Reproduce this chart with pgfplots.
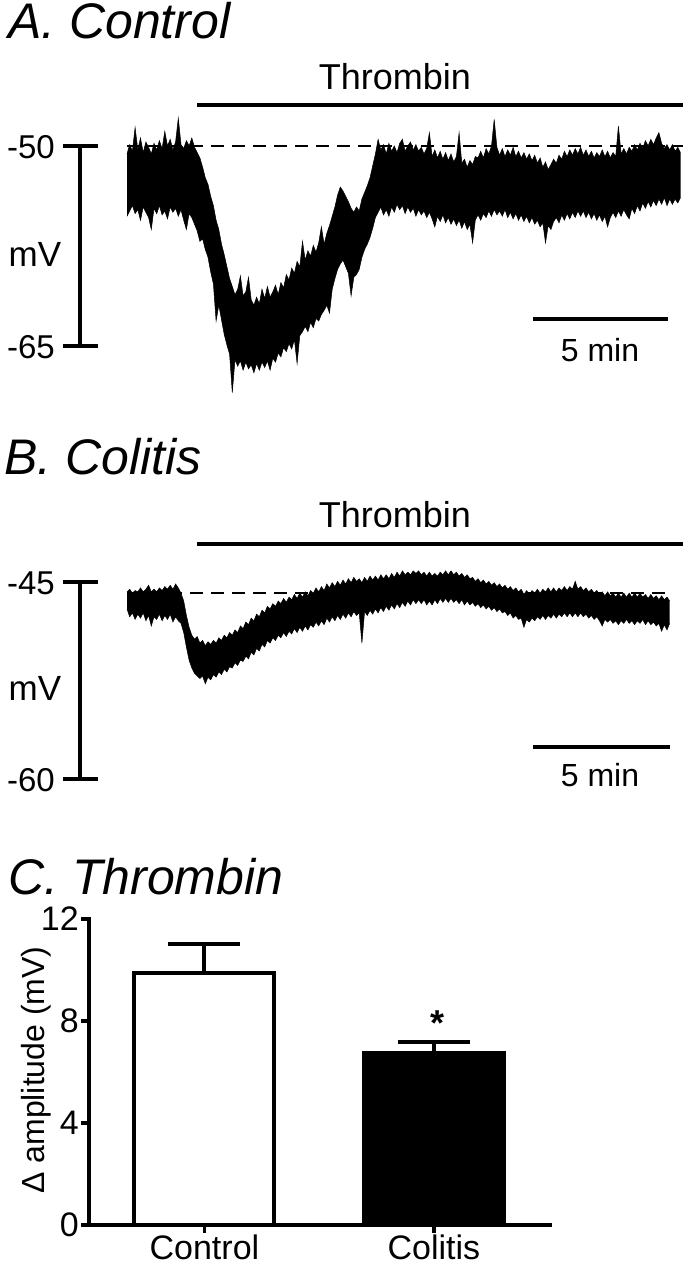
\documentclass[border=0pt]{standalone}
\usepackage{fontspec}
\setmainfont{Liberation Sans}
\usepackage{pgfplots}
\usepackage{pgfplotstable}
\pgfplotsset{compat=1.18}
\usepgfplotslibrary{fillbetween}

\newcommand{\fs}[1]{\fontsize{#1pt}{#1pt}\selectfont}

% A: control trace, t in min, upper and lower edge of the noisy band (mV)
\pgfplotstableread{
t u l
0.0 -50.6 -55.3
0.1 -49.9 -54.9
0.2 -50.4 -54.5
0.3 -48.6 -55.1
0.4 -50.3 -54.8
0.5 -49.4 -55.6
0.6 -50.5 -54.6
0.7 -49.7 -55.0
0.8 -50.1 -55.4
0.9 -50.6 -56.3
1.0 -49.8 -54.7
1.1 -50.3 -55.1
1.2 -49.6 -54.5
1.3 -50.2 -55.2
1.4 -48.9 -54.9
1.5 -50.0 -55.5
1.6 -49.5 -54.6
1.7 -50.3 -55.0
1.8 -49.7 -54.7
1.9 -47.9 -55.3
2.0 -49.9 -54.8
2.1 -50.2 -55.6
2.2 -49.6 -56.3
2.3 -50.0 -55.1
2.4 -49.4 -55.4
2.5 -50.1 -55.9
2.6 -50.5 -56.4
2.7 -50.9 -57.2
2.8 -51.6 -57.0
2.9 -52.4 -57.8
3.0 -52.9 -58.4
3.1 -53.8 -59.5
3.2 -54.5 -60.4
3.3 -55.6 -63.2
3.4 -56.3 -62.0
3.5 -57.4 -63.1
3.6 -58.2 -64.2
3.7 -59.1 -65.0
3.8 -60.0 -65.7
3.9 -60.6 -68.6
4.0 -61.2 -66.1
4.1 -60.8 -66.6
4.2 -59.8 -66.2
4.3 -61.3 -66.9
4.4 -61.0 -66.3
4.5 -59.9 -66.8
4.6 -61.6 -66.5
4.7 -62.0 -67.1
4.8 -61.4 -66.4
4.9 -61.9 -66.9
5.0 -60.8 -66.3
5.1 -61.5 -66.7
5.2 -60.6 -66.2
5.3 -61.4 -66.9
5.4 -61.0 -66.0
5.5 -60.5 -66.3
5.6 -61.2 -65.6
5.7 -60.3 -65.9
5.8 -60.7 -65.2
5.9 -59.7 -65.5
6.0 -60.1 -64.9
6.1 -59.2 -65.3
6.2 -59.6 -64.6
6.3 -58.7 -66.4
6.4 -59.1 -64.3
6.5 -57.2 -64.0
6.6 -58.6 -63.6
6.7 -57.9 -64.0
6.8 -58.3 -63.3
6.9 -57.5 -63.7
7.0 -58.0 -63.0
7.1 -57.3 -63.2
7.2 -56.1 -62.7
7.3 -57.4 -62.4
7.4 -56.6 -62.0
7.5 -56.0 -62.6
7.6 -55.3 -60.8
7.7 -54.6 -60.0
7.8 -53.7 -59.3
7.9 -53.1 -58.9
8.0 -53.4 -58.6
8.1 -53.8 -59.1
8.2 -54.2 -59.6
8.3 -54.7 -61.3
8.4 -55.0 -59.9
8.5 -54.6 -59.7
8.6 -54.9 -59.3
8.7 -54.0 -58.4
8.8 -53.5 -57.8
8.9 -53.0 -57.4
9.0 -52.4 -56.9
9.1 -51.5 -56.2
9.2 -50.6 -55.4
9.3 -49.5 -55.0
9.4 -50.3 -54.6
9.5 -49.9 -55.2
9.6 -50.6 -54.8
9.7 -49.8 -55.3
9.8 -50.4 -54.6
9.9 -50.0 -55.0
10.0 -50.5 -54.4
10.1 -49.8 -54.8
10.2 -49.5 -54.5
10.3 -50.4 -55.1
10.4 -50.0 -54.6
10.5 -49.7 -55.0
10.6 -50.3 -54.7
10.7 -49.9 -55.3
10.8 -50.4 -54.8
10.9 -50.1 -55.2
11.0 -50.6 -54.9
11.1 -50.2 -55.4
11.2 -49.0 -55.0
11.3 -50.8 -55.5
11.4 -50.3 -56.1
11.5 -50.9 -55.3
11.6 -50.4 -55.7
11.7 -51.0 -55.2
11.8 -50.5 -55.8
11.9 -51.1 -55.4
12.0 -50.6 -55.9
12.1 -51.2 -55.5
12.2 -50.8 -56.0
12.3 -49.0 -55.6
12.4 -51.3 -56.2
12.5 -51.0 -55.7
12.6 -51.6 -56.3
12.7 -51.1 -55.9
12.8 -51.4 -57.3
12.9 -50.8 -55.6
13.0 -50.9 -55.2
13.1 -50.4 -55.6
13.2 -50.9 -55.1
13.3 -50.2 -55.4
13.4 -50.6 -54.9
13.5 -50.0 -55.3
13.6 -48.0 -54.8
13.7 -50.1 -55.2
13.8 -50.7 -54.9
13.9 -50.2 -55.3
14.0 -50.8 -54.8
14.1 -50.3 -55.4
14.2 -50.7 -55.0
14.3 -50.1 -55.5
14.4 -50.8 -55.1
14.5 -50.4 -55.6
14.6 -50.9 -55.2
14.7 -50.5 -55.7
14.8 -51.0 -55.3
14.9 -50.6 -55.8
15.0 -51.1 -55.4
15.1 -50.7 -55.9
15.2 -51.3 -55.6
15.3 -50.9 -56.1
15.4 -51.6 -55.8
15.5 -51.2 -57.3
15.6 -51.8 -56.0
15.7 -51.4 -56.3
15.8 -51.0 -55.7
15.9 -51.3 -55.4
16.0 -50.7 -55.8
16.1 -51.0 -55.2
16.2 -50.4 -55.6
16.3 -50.8 -55.1
16.4 -50.3 -55.5
16.5 -50.7 -55.0
16.6 -50.2 -55.4
16.7 -50.6 -54.9
16.8 -50.1 -55.3
16.9 -50.7 -54.9
17.0 -50.3 -55.4
17.1 -50.8 -55.0
17.2 -50.4 -55.5
17.3 -50.9 -55.1
17.4 -50.5 -55.6
17.5 -50.8 -55.2
17.6 -50.3 -55.7
17.7 -50.8 -55.3
17.8 -50.4 -56.1
17.9 -50.9 -55.4
18.0 -50.5 -55.0
18.1 -50.8 -55.4
18.2 -48.5 -54.9
18.3 -50.6 -55.3
18.4 -50.2 -54.8
18.5 -50.6 -55.2
18.6 -50.1 -55.5
18.7 -50.4 -54.7
18.8 -49.9 -55.1
18.9 -50.3 -54.5
19.0 -49.8 -54.9
19.1 -50.2 -54.3
19.2 -49.6 -54.7
19.3 -50.0 -54.2
19.4 -49.5 -54.6
19.5 -49.9 -54.1
19.6 -49.4 -54.5
19.7 -49.0 -54.0
19.8 -49.8 -54.4
19.9 -50.2 -53.9
20.0 -49.9 -54.5
20.1 -50.3 -54.0
20.2 -49.9 -54.4
20.3 -50.4 -54.0
20.4 -50.1 -54.3
20.5 -50.5 -53.9
}\traceA

% B: colitis trace
\pgfplotstableread{
t u l
0.0 -45.9 -47.2
0.1 -45.7 -47.8
0.2 -46.0 -47.5
0.3 -45.8 -48.0
0.4 -45.9 -47.6
0.5 -45.6 -47.9
0.6 -45.9 -47.5
0.7 -45.7 -48.1
0.8 -45.4 -47.7
0.9 -45.9 -48.5
1.0 -45.7 -47.8
1.1 -45.9 -48.0
1.2 -45.6 -47.6
1.3 -45.8 -48.1
1.4 -45.5 -47.7
1.5 -45.7 -48.0
1.6 -45.4 -47.6
1.7 -45.7 -48.2
1.8 -45.3 -47.8
1.9 -45.6 -48.1
2.0 -46.0 -48.3
2.1 -46.6 -49.0
2.2 -47.7 -50.1
2.3 -48.6 -51.1
2.4 -49.2 -51.7
2.5 -49.5 -52.1
2.6 -49.3 -52.3
2.7 -49.8 -52.5
2.8 -49.6 -52.3
2.9 -50.0 -52.9
3.0 -49.7 -52.4
3.1 -49.9 -52.6
3.2 -49.6 -52.2
3.3 -49.8 -52.4
3.4 -49.4 -52.0
3.5 -49.6 -52.2
3.6 -49.2 -51.8
3.7 -49.4 -52.0
3.8 -49.0 -51.6
3.9 -49.2 -51.7
4.0 -48.8 -51.3
4.1 -49.0 -51.5
4.2 -48.5 -51.1
4.3 -48.7 -51.2
4.4 -48.2 -50.8
4.5 -48.4 -51.0
4.6 -47.9 -50.5
4.7 -48.1 -50.7
4.8 -47.6 -50.2
4.9 -47.8 -50.4
5.0 -47.3 -49.9
5.1 -47.5 -50.1
5.2 -47.0 -49.6
5.3 -47.2 -49.8
5.4 -46.8 -49.4
5.5 -47.0 -49.6
5.6 -46.6 -49.2
5.7 -46.8 -49.4
5.8 -46.4 -49.0
5.9 -46.7 -49.3
6.0 -46.3 -48.9
6.1 -46.5 -49.1
6.2 -46.1 -48.7
6.3 -46.4 -49.0
6.4 -46.0 -48.6
6.5 -46.3 -48.9
6.6 -45.9 -48.5
6.7 -46.2 -48.8
6.8 -45.8 -48.4
6.9 -46.0 -48.6
7.0 -45.6 -48.2
7.1 -45.9 -48.5
7.2 -45.5 -48.1
7.3 -45.8 -48.4
7.4 -45.3 -47.9
7.5 -45.6 -48.2
7.6 -45.2 -47.8
7.7 -45.5 -48.1
7.8 -45.1 -47.7
7.9 -45.4 -48.0
8.0 -45.0 -47.6
8.1 -45.3 -47.9
8.2 -44.9 -47.5
8.3 -45.2 -47.8
8.4 -44.8 -47.4
8.5 -45.1 -47.7
8.6 -44.9 -47.5
8.7 -45.2 -49.8
8.8 -44.8 -47.4
8.9 -45.1 -47.7
9.0 -44.7 -47.3
9.1 -45.0 -47.6
9.2 -44.7 -47.2
9.3 -45.0 -47.5
9.4 -44.6 -47.1
9.5 -44.9 -47.4
9.6 -44.6 -47.0
9.7 -44.9 -47.3
9.8 -44.5 -46.9
9.9 -44.8 -47.2
10.0 -44.4 -46.8
10.1 -44.7 -47.1
10.2 -44.3 -46.7
10.3 -44.6 -47.0
10.4 -44.4 -46.6
10.5 -44.6 -46.9
10.6 -44.3 -46.5
10.7 -44.5 -46.8
10.8 -44.3 -46.5
10.9 -44.6 -46.8
11.0 -44.4 -46.5
11.1 -44.7 -46.9
11.2 -44.4 -46.6
11.3 -44.7 -46.9
11.4 -44.5 -46.5
11.5 -44.7 -46.8
11.6 -44.4 -46.4
11.7 -44.6 -46.7
11.8 -44.3 -46.4
11.9 -44.6 -46.7
12.0 -44.3 -46.4
12.1 -44.6 -46.7
12.2 -44.4 -46.5
12.3 -44.7 -46.8
12.4 -44.5 -46.5
12.5 -44.8 -46.9
12.6 -44.6 -46.6
12.7 -44.9 -46.9
12.8 -44.8 -46.7
12.9 -45.1 -47.0
13.0 -44.9 -46.8
13.1 -45.2 -47.1
13.2 -45.0 -46.9
13.3 -45.3 -47.2
13.4 -45.1 -47.0
13.5 -45.4 -47.3
13.6 -45.2 -47.1
13.7 -45.5 -47.4
13.8 -45.3 -47.2
13.9 -45.6 -47.5
14.0 -45.4 -47.4
14.1 -45.7 -47.7
14.2 -45.5 -47.5
14.3 -45.8 -47.9
14.4 -45.6 -47.7
14.5 -45.9 -48.0
14.6 -45.7 -47.9
14.7 -46.1 -48.6
14.8 -45.8 -48.0
14.9 -46.1 -48.2
15.0 -45.8 -47.9
15.1 -46.0 -48.1
15.2 -45.7 -47.8
15.3 -46.0 -48.0
15.4 -45.7 -47.7
15.5 -45.9 -48.0
15.6 -45.6 -47.7
15.7 -45.9 -47.9
15.8 -45.6 -47.6
15.9 -45.9 -47.9
16.0 -45.6 -47.6
16.1 -45.8 -47.8
16.2 -45.5 -47.5
16.3 -45.8 -47.8
16.4 -45.5 -47.5
16.5 -45.7 -47.8
16.6 -45.1 -47.5
16.7 -45.7 -47.8
16.8 -45.5 -47.5
16.9 -45.8 -47.8
17.0 -45.6 -47.6
17.1 -45.9 -47.9
17.2 -45.7 -47.7
17.3 -46.0 -48.0
17.4 -45.8 -47.8
17.5 -46.1 -48.1
17.6 -45.9 -48.5
17.7 -46.2 -48.0
17.8 -45.9 -48.2
17.9 -46.2 -48.0
18.0 -46.0 -48.3
18.1 -46.3 -48.1
18.2 -46.0 -48.4
18.3 -46.3 -48.1
18.4 -46.0 -48.3
18.5 -46.3 -48.0
18.6 -46.0 -48.3
18.7 -46.3 -48.1
18.8 -46.0 -48.4
18.9 -46.3 -48.1
19.0 -46.0 -48.3
19.1 -46.3 -48.0
19.2 -46.1 -48.4
19.3 -46.4 -48.1
19.4 -46.1 -48.4
19.5 -46.4 -48.2
19.6 -46.2 -48.5
19.7 -46.5 -48.3
19.8 -46.2 -48.9
19.9 -46.5 -48.4
20.0 -46.3 -48.8
20.1 -46.6 -48.3
}\traceB

\begin{document}
\begin{tikzpicture}
\path (0,0) rectangle (685pt,1269pt);

% A. Control trace
\begin{axis}[at={(127pt,857.7pt)}, anchor=south west,
    x=27pt, y=13.267pt, xmin=0, xmax=20.6, ymin=-70, ymax=-44,
    hide axis, clip=false]
\addplot[name path=AU, draw=black, line width=0.5pt] table[x=t, y=u] {\traceA};
\addplot[name path=AL, draw=black, line width=0.5pt] table[x=t, y=l] {\traceA};
\addplot[black] fill between[of=AU and AL];
\end{axis}

% B. Colitis trace
\begin{axis}[at={(127pt,465.7pt)}, anchor=south west,
    x=27pt, y=13.133pt, xmin=0, xmax=20.6, ymin=-62, ymax=-40,
    hide axis, clip=false]
\addplot[name path=BU, draw=black, line width=0.5pt] table[x=t, y=u] {\traceB};
\addplot[name path=BL, draw=black, line width=0.5pt] table[x=t, y=l] {\traceB};
\addplot[black] fill between[of=BU and BL];
\end{axis}

% C. bar chart
\begin{axis}[at={(89pt,44pt)}, anchor=south west,
    x=229.5pt, y=25.5pt, xmin=0.497, xmax=2.505, ymin=0, ymax=12,
    axis lines=left, axis line style={-, line width=4pt, line cap=rect},
    ybar, bar width=140pt, bar shift=0pt,
    xtick={1,2}, xticklabels={Control,Colitis}, ytick={0,4,8,12},
    tick align=outside, major tick length=8pt,
    tick style={black, line width=3.5pt},
    ticklabel style={font=\fs{34}},
    xticklabel style={inner sep=2pt},
    yticklabel style={inner sep=0pt, xshift=-2pt},
    /pgf/number format/assume math mode=true,
    clip=false]
\addplot[fill=white, draw=black, line width=4pt,
    error bars/.cd, y dir=plus, y explicit,
    error bar style={line width=4pt, black},
    error mark options={rotate=90, mark size=36pt, line width=4pt, black}]
    coordinates {(1,9.9) +- (0,1.1)};
\addplot[fill=black, draw=black, line width=4pt,
    error bars/.cd, y dir=plus, y explicit,
    error bar style={line width=4pt, black},
    error mark options={rotate=90, mark size=36pt, line width=4pt, black}]
    coordinates {(2,6.75) +- (0,0.43)};
\end{axis}

% annotations, in pixel units from the top left corner
\begin{scope}[x=1pt, y=-1pt, shift={(0pt,1269pt)}]
% panel A
\node[anchor=base west, inner sep=0, font=\fs{50}\itshape] at (8,39) {A. Control};
\node[anchor=base, inner sep=0, font=\fs{36}] at (395,90) {Thrombin};
\draw[line width=4.5pt] (197,105) -- (683,105);
\draw[line width=2.5pt, dash pattern=on 13pt off 8pt] (127,146) -- (683,146);
\draw[line width=4pt] (80,146) -- (80,346);
\draw[line width=4.5pt] (63,146) -- (98,146) (63,346) -- (98,346);
\node[anchor=east, inner sep=0, font=\fs{33}] at (55,147) {-50};
\node[anchor=east, inner sep=0, font=\fs{33}] at (55,347) {-65};
\node[inner sep=0, font=\fs{35}] at (35,254) {mV};
\draw[line width=4.5pt] (533,319) -- (668,319);
\node[anchor=base, inner sep=0, font=\fs{32}] at (600,362) {5 min};
% panel B
\node[anchor=base west, inner sep=0, font=\fs{50}\itshape] at (4,475) {B. Colitis};
\node[anchor=base, inner sep=0, font=\fs{36}] at (395,528) {Thrombin};
\draw[line width=4.5pt] (197,544) -- (683,544);
\draw[line width=2.5pt, dash pattern=on 13pt off 8pt] (127,593) -- (672,593);
\draw[line width=4pt] (80,582) -- (80,779);
\draw[line width=4.5pt] (63,582) -- (98,582) (63,779) -- (98,779);
\node[anchor=east, inner sep=0, font=\fs{33}] at (55,583) {-45};
\node[anchor=east, inner sep=0, font=\fs{33}] at (55,780) {-60};
\node[inner sep=0, font=\fs{35}] at (35,688) {mV};
\draw[line width=4.5pt] (533,747) -- (670,747);
\node[anchor=base, inner sep=0, font=\fs{32}] at (600,787) {5 min};
% panel C
\node[anchor=base west, inner sep=0, font=\fs{50}\itshape] at (8,895) {C. Thrombin};
\node[rotate=90, inner sep=0, font=\fs{32}] at (36,1070) {Δ amplitude (mV)};
\node[anchor=base, inner sep=0, font=\fs{36}\bfseries] at (437,1036) {*};
\end{scope}
\end{tikzpicture}
\end{document}
